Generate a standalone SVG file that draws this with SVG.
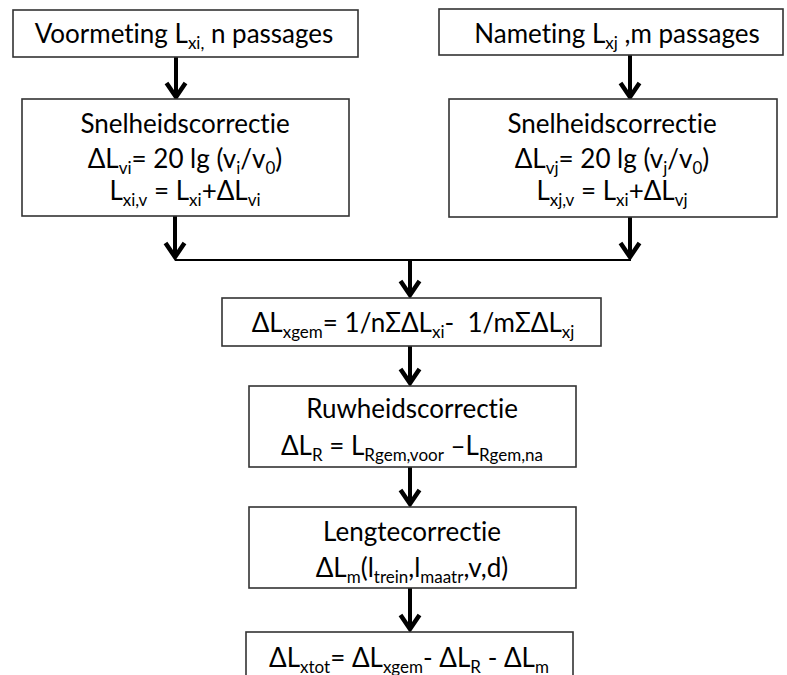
<svg xmlns="http://www.w3.org/2000/svg" width="787" height="675" viewBox="0 0 787 675">
<style>
.box{fill:#fff;stroke:#333;stroke-width:1.6}
.t{font-family:Lato,"Open Sans","Liberation Sans",sans-serif;font-size:26px;fill:#000;text-anchor:middle;font-variant-ligatures:none;font-feature-settings:"liga" 0,"dlig" 0}
.s{font-size:17px}
.conn{stroke:#000;fill:none}
.arr{stroke-width:4}
.bar{stroke-width:2}
</style>
<defs>
<marker id="ah" markerUnits="userSpaceOnUse" markerWidth="30" markerHeight="30" viewBox="-20 -15 30 30" refX="0" refY="0" orient="auto" overflow="visible">
<path d="M -12 -9.5 L 2 0 L -12 9.5" fill="none" stroke="#000" stroke-width="4.5" stroke-linejoin="miter"/>
</marker>
</defs>
<rect width="787" height="675" fill="#fff"/>
<g id="connectors">
<path class="conn arr" d="M176 57 V95" marker-end="url(#ah)"/>
<path class="conn arr" d="M630 55 V95" marker-end="url(#ah)"/>
<path class="conn arr" d="M175 216 V255" marker-end="url(#ah)"/>
<path class="conn arr" d="M630 217 V255" marker-end="url(#ah)"/>
<path class="conn bar" d="M175 260 H631"/>
<path class="conn arr" d="M410 259 V293" marker-end="url(#ah)"/>
<path class="conn arr" d="M410 346 V381" marker-end="url(#ah)"/>
<path class="conn arr" d="M410 467 V502" marker-end="url(#ah)"/>
<path class="conn arr" d="M410 588 V627" marker-end="url(#ah)"/>
</g>
<g id="voormeting">
<rect class="box" x="13" y="10" width="345" height="47"/>
<text class="t" x="184" y="43">Voormeting L<tspan class="s" dy="6">xi,</tspan><tspan dy="-6"> n passages</tspan></text>
</g>
<g id="nameting">
<rect class="box" x="439" y="9" width="344" height="46"/>
<text class="t" x="617" y="43">Nameting L<tspan class="s" dy="6">xj</tspan><tspan dy="-6"> ,m passages</tspan></text>
</g>
<g id="snelheid-links">
<rect class="box" x="22" y="99" width="327" height="117"/>
<text class="t" x="185" y="133">Snelheidscorrectie</text>
<text class="t" x="185" y="168">ΔL<tspan class="s" dy="6">vi</tspan><tspan dy="-6">= 20 lg (v</tspan><tspan class="s" dy="6">i</tspan><tspan dy="-6">/v</tspan><tspan class="s" dy="6">0</tspan><tspan dy="-6">)</tspan></text>
<text class="t" x="185" y="200">L<tspan class="s" dy="6">xi,v</tspan><tspan dy="-6"> = L</tspan><tspan class="s" dy="6">xi</tspan><tspan dy="-6">+ΔL</tspan><tspan class="s" dy="6">vi</tspan></text>
</g>
<g id="snelheid-rechts">
<rect class="box" x="449" y="99" width="328" height="118"/>
<text class="t" x="612" y="133">Snelheidscorrectie</text>
<text class="t" x="612" y="168">ΔL<tspan class="s" dy="6">vj</tspan><tspan dy="-6">= 20 lg (v</tspan><tspan class="s" dy="6">j</tspan><tspan dy="-6">/v</tspan><tspan class="s" dy="6">0</tspan><tspan dy="-6">)</tspan></text>
<text class="t" x="612" y="200">L<tspan class="s" dy="6">xj,v</tspan><tspan dy="-6"> = L</tspan><tspan class="s" dy="6">xi</tspan><tspan dy="-6">+ΔL</tspan><tspan class="s" dy="6">vj</tspan></text>
</g>
<g id="gemiddelde">
<rect class="box" x="222" y="298" width="379" height="48"/>
<text class="t" x="413" y="332" xml:space="preserve">ΔL<tspan class="s" dy="6">xgem</tspan><tspan dy="-6">= 1/nΣΔL</tspan><tspan class="s" dy="6">xi</tspan><tspan dy="-6">-  1/mΣΔL</tspan><tspan class="s" dy="6">xj</tspan></text>
</g>
<g id="ruwheid">
<rect class="box" x="249" y="386" width="327" height="81"/>
<text class="t" x="412" y="418">Ruwheidscorrectie</text>
<text class="t" x="412" y="455">ΔL<tspan class="s" dy="6">R</tspan><tspan dy="-6"> = L</tspan><tspan class="s" dy="6">Rgem,voor</tspan><tspan dy="-6"> –L</tspan><tspan class="s" dy="6">Rgem,na</tspan></text>
</g>
<g id="lengte">
<rect class="box" x="249" y="507" width="327" height="81"/>
<text class="t" x="412" y="541">Lengtecorrectie</text>
<text class="t" x="412" y="577">ΔL<tspan class="s" dy="6">m</tspan><tspan dy="-6">(l</tspan><tspan class="s" dy="6">trein</tspan><tspan dy="-6">,l</tspan><tspan class="s" dy="6">maatr</tspan><tspan dy="-6">,v,d)</tspan></text>
</g>
<g id="totaal">
<rect class="box" x="246" y="632" width="327" height="60"/>
<text class="t" x="409" y="667">ΔL<tspan class="s" dy="6">xtot</tspan><tspan dy="-6">= ΔL</tspan><tspan class="s" dy="6">xgem</tspan><tspan dy="-6">- ΔL</tspan><tspan class="s" dy="6">R</tspan><tspan dy="-6"> - ΔL</tspan><tspan class="s" dy="6">m</tspan></text>
</g>
</svg>
